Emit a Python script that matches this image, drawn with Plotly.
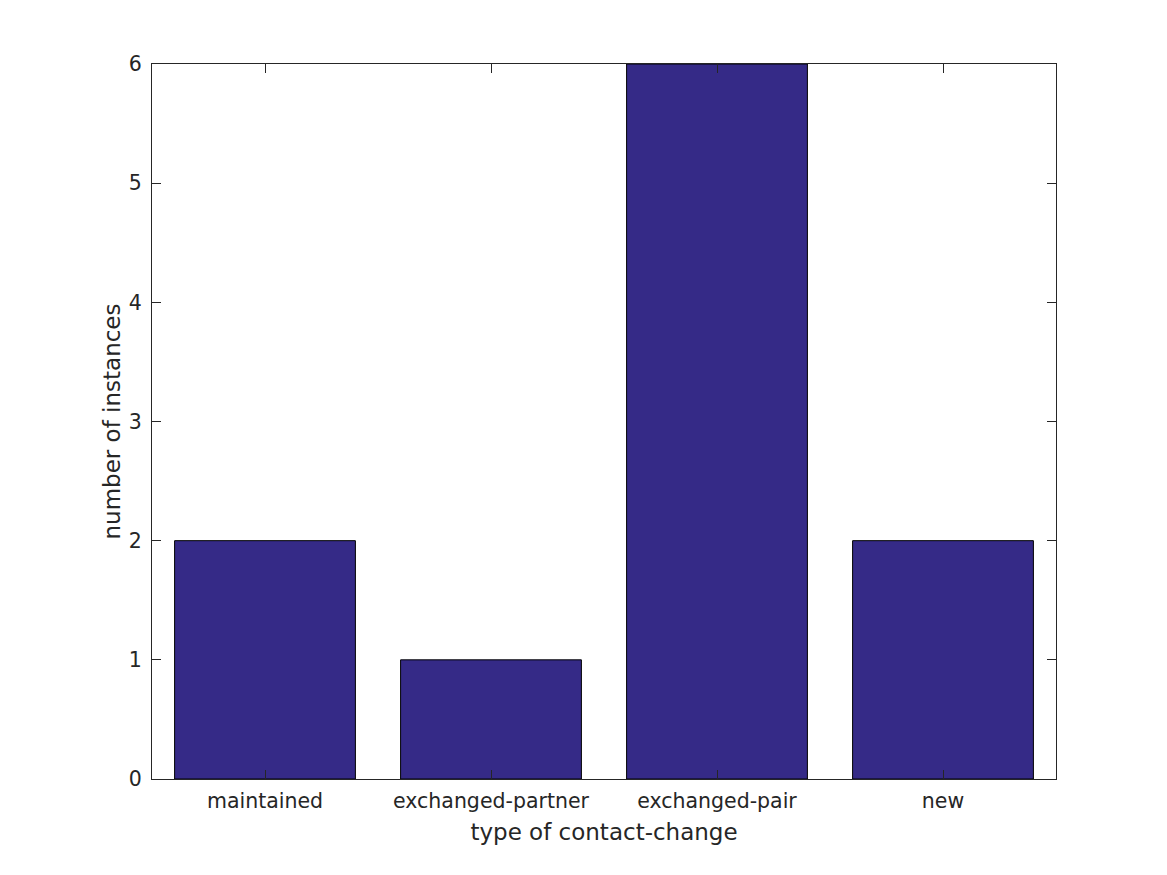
import plotly.graph_objects as go

categories = ["maintained", "exchanged-partner", "exchanged-pair", "new"]
counts = [2, 1, 6, 2]
y_ticks = [0, 1, 2, 3, 4, 5, 6]

axis_color = "#262626"
font_family = "DejaVu Sans"

fig = go.Figure(
    go.Bar(
        x=categories,
        y=counts,
        marker=dict(color="#352A87", line=dict(color="#000000", width=1)),
        width=0.8,
    )
)

common = dict(
    showline=True,
    linecolor=axis_color,
    linewidth=1,
    mirror="ticks",
    ticks="inside",
    ticklen=9,
    tickwidth=1,
    tickcolor=axis_color,
    showgrid=False,
    zeroline=False,
    tickfont=dict(family=font_family, size=20.5, color=axis_color),
)

fig.update_layout(
    width=1167,
    height=875,
    paper_bgcolor="white",
    plot_bgcolor="white",
    margin=dict(l=144, r=119, t=56, b=104),
    showlegend=False,
    font=dict(family=font_family, color=axis_color),
    xaxis=dict(
        **common,
        type="category",
        range=[-0.5, 3.5],
        ticklabelstandoff=3,
        title=dict(text="type of contact-change", font=dict(family=font_family, size=23, color=axis_color), standoff=12),
    ),
    yaxis=dict(
        **common,
        range=[0, 6],
        tickvals=y_ticks,
        ticklabelstandoff=5,
        title=dict(text="number of instances", font=dict(family=font_family, size=23, color=axis_color), standoff=1),
    ),
)

fig.write_html("out.html")
